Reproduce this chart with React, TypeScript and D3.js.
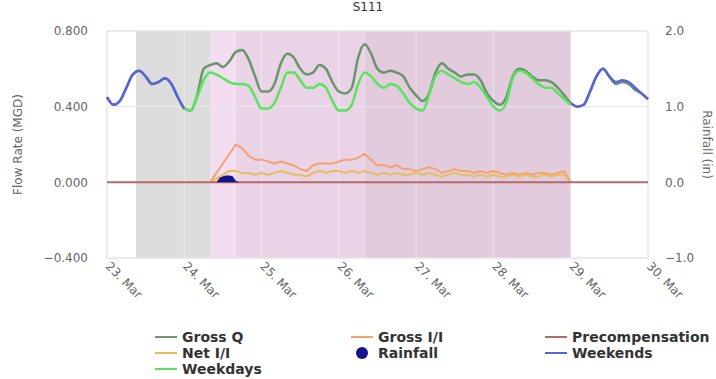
import React from "react";
import * as d3 from "d3";

// readings every 2 hours, starting 23 Mar 00:00
const grossQ = [
  0.45, 0.41, 0.43, 0.5, 0.57, 0.59, 0.56, 0.52, 0.53, 0.55, 0.52, 0.45,
  0.39, 0.38, 0.46, 0.6, 0.62, 0.63, 0.61, 0.64, 0.69, 0.7, 0.65, 0.56,
  0.48, 0.48, 0.52, 0.63, 0.68, 0.66, 0.6, 0.57, 0.58, 0.62, 0.6, 0.53,
  0.48, 0.47, 0.5, 0.66, 0.73, 0.68, 0.6, 0.58, 0.59, 0.58, 0.56, 0.5,
  0.46, 0.43, 0.47, 0.58, 0.63, 0.6, 0.58, 0.56, 0.57, 0.57, 0.54, 0.47,
  0.43, 0.41, 0.45, 0.56, 0.6, 0.59, 0.56, 0.54, 0.54, 0.53, 0.5, 0.46,
  0.42, 0.4, 0.41, 0.48, 0.56, 0.6, 0.56, 0.52, 0.53, 0.52, 0.49, 0.47,
  0.44,
];

// weekend pattern, 23 Mar and 29 Mar (2-hour steps)
const weekendSat = [0.45, 0.41, 0.43, 0.5, 0.57, 0.59, 0.56, 0.52, 0.53, 0.55, 0.52, 0.45, 0.39];
const weekendSun = [0.42, 0.4, 0.41, 0.48, 0.56, 0.6, 0.56, 0.53, 0.54, 0.53, 0.5, 0.47, 0.44];

// weekday pattern, 24 Mar 00:00 to 29 Mar 00:00
const weekdays = [
  0.39, 0.38, 0.45, 0.54, 0.58, 0.57, 0.55, 0.53, 0.52, 0.52, 0.51, 0.45,
  0.39, 0.39, 0.42, 0.5, 0.58, 0.58, 0.54, 0.5, 0.5, 0.52, 0.5, 0.43,
  0.38, 0.38, 0.41, 0.52, 0.58, 0.56, 0.52, 0.5, 0.52, 0.51, 0.47, 0.42,
  0.39, 0.38, 0.46, 0.56, 0.59, 0.57, 0.55, 0.53, 0.52, 0.53, 0.5, 0.45,
  0.4, 0.38, 0.42, 0.55, 0.59, 0.58, 0.55, 0.52, 0.5, 0.5, 0.47, 0.44,
  0.41,
];

// 24 Mar 08:00 to 29 Mar 00:00
const grossII = [
  0.0, 0.05, 0.1, 0.15, 0.2, 0.18, 0.14, 0.12, 0.12, 0.11, 0.1, 0.11,
  0.1, 0.09, 0.07, 0.06, 0.09, 0.1, 0.1, 0.1, 0.11, 0.12, 0.12, 0.13,
  0.15, 0.12, 0.09, 0.09, 0.08, 0.09, 0.07, 0.07, 0.06, 0.07, 0.08, 0.07,
  0.05, 0.06, 0.07, 0.06, 0.06, 0.05, 0.06, 0.05, 0.06, 0.05, 0.04, 0.05,
  0.04, 0.05, 0.04, 0.05, 0.05, 0.04, 0.05, 0.06, 0.0,
];
const netII = [
  0.0, 0.02, 0.04, 0.06, 0.06, 0.05, 0.05, 0.04, 0.05, 0.04, 0.05, 0.06,
  0.05, 0.04, 0.04, 0.03, 0.05, 0.06, 0.05, 0.06, 0.06, 0.05, 0.06, 0.05,
  0.06, 0.05, 0.04, 0.05, 0.04, 0.05, 0.04, 0.04, 0.05, 0.04, 0.05, 0.04,
  0.03, 0.04, 0.05, 0.04, 0.04, 0.03, 0.04, 0.03, 0.04, 0.03, 0.03, 0.04,
  0.03, 0.04, 0.03, 0.03, 0.04, 0.03, 0.04, 0.04, 0.0,
];
const precompensation = [0, 0];

// hourly rainfall (in), 24 Mar 10:00 onward
const rainfall = [0, 0.06, 0.08, 0.09, 0.09, 0.08, 0.02, 0];

const dayTicks = ["23", "24", "25", "26", "27", "28", "29", "30"];
const leftTicks = [-0.4, 0, 0.4, 0.8];
const rightTicks = [-1, 0, 1, 2];

// shaded periods [fromHour, toHour, colour]
const bands: [number, number, string][] = [
  [9, 32, "#dddddd"],
  [32, 40, "#f3ddf0"],
  [40, 80, "#ead3e7"],
  [80, 144, "#e2cbdd"],
];

const start = Date.UTC(2019, 2, 23);
const at = (h: number) => new Date(start + h * 3600e3);
const series = (vals: number[], h0: number, step: number) =>
  vals.map((v, i) => ({ t: at(h0 + i * step), v }));

const W = 716;
const H = 379;
const m = { left: 107, right: 68, top: 31, bottom: 121 };
const font = "'DejaVu Sans', Verdana, sans-serif";

export default function App() {
  const x = d3.scaleUtc().domain([at(0), at(168)]).range([m.left, W - m.right]);
  const y = d3.scaleLinear().domain([-0.4, 0.8]).range([H - m.bottom, m.top]);
  const y2 = d3.scaleLinear().domain([-1, 2]).range([H - m.bottom, m.top]);

  const smooth = d3
    .line<{ t: Date; v: number }>()
    .x((d) => x(d.t))
    .y((d) => y(d.v))
    .curve(d3.curveMonotoneX);
  const jag = d3
    .line<{ t: Date; v: number }>()
    .x((d) => x(d.t))
    .y((d) => y(d.v));
  const rainArea = d3
    .area<{ t: Date; v: number }>()
    .x((d) => x(d.t))
    .y0(y2(0))
    .y1((d) => y2(d.v));

  const lines = [
    { d: jag(series(grossII, 32, 2)), c: "#f3a371", w: 2 },
    { d: jag(series(netII, 32, 2)), c: "#e6be5c", w: 2 },
    { d: jag(series(precompensation, 0, 168)), c: "#b56a6a", w: 2 },
  ];
  const pattern = [
    { d: smooth(series(weekendSat, 0, 2)), c: "#5a62dc" },
    { d: smooth(series(weekendSun, 144, 2)), c: "#5a62dc" },
    { d: smooth(series(weekdays, 24, 2)), c: "#58e45c" },
  ];

  const legend = [
    { name: "Gross Q", c: "#6f9a72", col: 0, row: 0 },
    { name: "Gross I/I", c: "#f3a371", col: 1, row: 0 },
    { name: "Precompensation", c: "#b56a6a", col: 2, row: 0 },
    { name: "Net I/I", c: "#e6be5c", col: 0, row: 1 },
    { name: "Rainfall", c: "#14148c", col: 1, row: 1, dot: true },
    { name: "Weekends", c: "#5a62dc", col: 2, row: 1 },
    { name: "Weekdays", c: "#58e45c", col: 0, row: 2 },
  ];
  const colX = [155, 351, 545];

  const pw = W - m.left - m.right;
  const ph = H - m.top - m.bottom;

  return (
    <svg width={W} height={H} style={{ position: "absolute", left: 0, top: 0, fontFamily: font }}>
      <rect width={W} height={H} fill="#fff" />
      <text x={368} y={11} textAnchor="middle" fontSize={12} fill="#333">
        S111
      </text>

      {bands.map(([a, b, c], i) => (
        <rect key={i} x={x(at(a))} y={m.top} width={x(at(b)) - x(at(a))} height={ph} fill={c} />
      ))}

      {leftTicks.map((t) => (
        <line key={t} x1={m.left} x2={W - m.right} y1={y(t)} y2={y(t)} stroke="#e6e6e6" />
      ))}
      {dayTicks.map((d, i) => (
        <line key={d} x1={x(at(i * 24))} x2={x(at(i * 24))} y1={m.top} y2={H - m.bottom} stroke="#ececec" strokeOpacity={0.8} />
      ))}
      <rect x={m.left} y={m.top} width={pw} height={ph} fill="none" stroke="#e3e3e3" />

      <path d={smooth(series(grossQ, 0, 2)) || ""} fill="none" stroke="#6a946d" strokeWidth={2.5} strokeLinejoin="round" />
      {lines.map((l, i) => (
        <path key={i} d={l.d || ""} fill="none" stroke={l.c} strokeWidth={l.w} strokeLinejoin="round" />
      ))}
      <path d={rainArea(series(rainfall, 34, 1)) || ""} fill="#14148c" />
      {pattern.map((l, i) => (
        <path key={i} d={l.d || ""} fill="none" stroke={l.c} strokeWidth={2.5} strokeLinejoin="round" />
      ))}

      {leftTicks.map((t) => (
        <text key={t} x={m.left - 19} y={y(t)} dy="0.35em" textAnchor="end" fontSize={12} fill="#666">
          {d3.format(".3f")(t)}
        </text>
      ))}
      {rightTicks.map((t) => (
        <text key={t} x={W - m.right + 17} y={y2(t)} dy="0.35em" textAnchor="start" fontSize={12} fill="#666">
          {d3.format(".1f")(t)}
        </text>
      ))}
      {dayTicks.map((d, i) => (
        <text
          key={d}
          transform={`translate(${x(at(i * 24)) - 2},${H - m.bottom + 9}) rotate(45)`}
          fontSize={12}
          fill="#666"
        >
          {`${d}. Mar`}
        </text>
      ))}
      <text transform={`translate(22,${m.top + ph / 2}) rotate(-90)`} textAnchor="middle" fontSize={12} fill="#666">
        Flow Rate (MGD)
      </text>
      <text transform={`translate(703,${m.top + ph / 2}) rotate(90)`} textAnchor="middle" fontSize={12} fill="#666">
        Rainfall (in)
      </text>

      {legend.map((l) => {
        const lx = colX[l.col];
        const ly = 337 + l.row * 16;
        return (
          <g key={l.name}>
            {l.dot ? (
              <circle cx={lx + 11} cy={ly} r={6} fill={l.c} />
            ) : (
              <line x1={lx} x2={lx + 22} y1={ly} y2={ly} stroke={l.c} strokeWidth={2} />
            )}
            <text x={lx + 27} y={ly} dy="0.35em" fontSize={14} fontWeight="bold" fill="#333">
              {l.name}
            </text>
          </g>
        );
      })}
    </svg>
  );
}
